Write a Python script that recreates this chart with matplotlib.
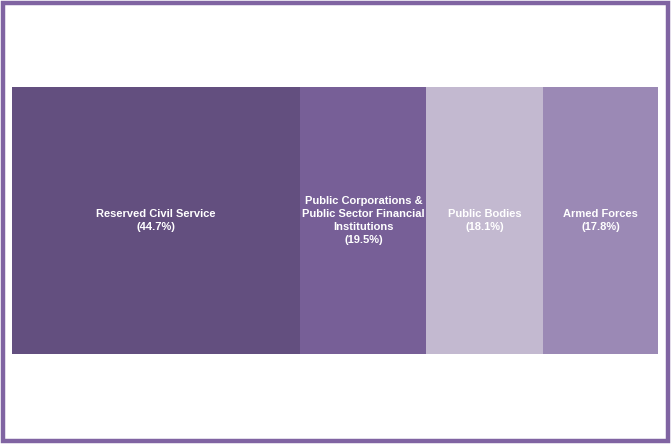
import matplotlib.pyplot as plt
from matplotlib.patches import Rectangle

plt.rcParams['font.family'] = ['Liberation Sans', 'DejaVu Sans']

labels = ['Reserved Civil Service', 'Public Corporations &\nPublic Sector Financial\nInstitutions',
          'Public Bodies', 'Armed Forces']
shares = [44.7, 19.5, 18.1, 17.8]
colors = ['#634f7f', '#775f97', '#c3b9d0', '#9b89b5']

W, H = 671, 444
fig = plt.figure(figsize=(W / 100, H / 100), dpi=100)

# bar area in pixels: x 12..658, y 87..354
ax = fig.add_axes([12 / W, (H - 354) / H, 646 / W, 267 / H])
left = 0
for lab, val, col in zip(labels, shares, colors):
    ax.barh(0, val, left=left, height=1, color=col, edgecolor='none')
    ax.text(left + val / 2, 0, '%s\n(%.1f%%)' % (lab, val), ha='center', va='center',
            color='white', fontsize=8, fontweight='bold', linespacing=1.38)
    left += val
ax.set_xlim(0, sum(shares))
ax.set_ylim(-0.5, 0.5)
ax.axis('off')

# frame around the picture
fig.patches.append(Rectangle((2.5 / W, 3 / H), (W - 6) / W, (H - 6) / H, transform=fig.transFigure,
                             fill=False, edgecolor='#8064a2', linewidth=3.2))

fig.savefig('out.png', dpi=100)
